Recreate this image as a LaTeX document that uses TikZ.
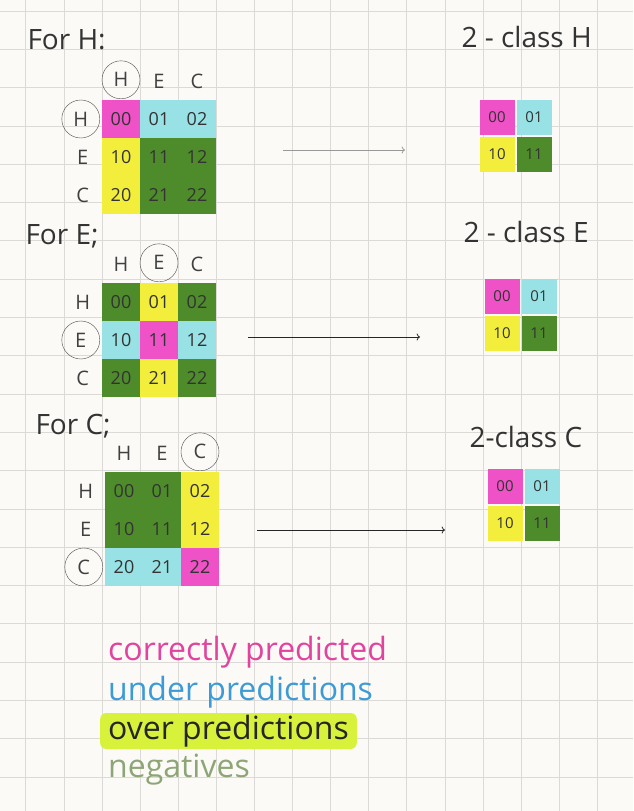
\documentclass[tikz,border=0pt]{standalone}
\usepackage{fontspec}
\setmainfont{Open Sans}
\usetikzlibrary{positioning, arrows.meta}

\definecolor{paper}{HTML}{FBFAF7}
\definecolor{gridgray}{HTML}{DCDAD6}
\definecolor{predpink}{HTML}{EE52C6}
\definecolor{predcyan}{HTML}{98E2E6}
\definecolor{predyellow}{HTML}{F3EE3C}
\definecolor{predgreen}{HTML}{4E8B2B}
\definecolor{penblue}{HTML}{3C9BD6}
\definecolor{penpink}{HTML}{E2439E}
\definecolor{marker}{HTML}{D8F23C}
\definecolor{fadegreen}{HTML}{8EA676}

\begin{document}
\begin{tikzpicture}[
    x=1pt, y=-1pt,
    node distance=0pt,
    cell/.style={rectangle, minimum size=38pt, inner sep=0pt, outer sep=0pt, text=black!80, font=\fontsize{18}{18}\selectfont},
    mini/.style={rectangle, minimum size=35pt, inner sep=0pt, outer sep=0pt, text=black!80, font=\fontsize{15}{15}\selectfont},
    lab/.style={circle, minimum size=30pt, inner sep=0pt, text=black!75, font=\fontsize{20}{20}\selectfont},
    ring/.style={draw=black!70, thin, minimum size=38pt},
    title/.style={anchor=west, text=black!80, font=\fontsize{28}{28}\selectfont},
    legend/.style={anchor=west, inner sep=2pt, font=\fontsize{32}{32}\selectfont},
    gridline/.style={gridgray, line width=0.7pt},
    arrow/.style={->, line width=0.8pt}
]

% Paper
\fill[paper] (0,0) rectangle (633,811);
\useasboundingbox (0,0) rectangle (633,811);
\foreach \gx in {0,...,16}
    \draw[gridline] ({25.8+38.1*\gx},0) -- ({25.8+38.1*\gx},811);
\foreach \gy in {0,...,20}
    \draw[gridline] (0,{11+38.3*\gy}) -- (633,{11+38.3*\gy});

% Titles
\node[title] (forH) at (24,40) {For H:};
\node[title] (forE) at (22,236) {For E;};
\node[title] (forC) at (32,426) {For C;};
\node[title] (twoH) at (458,37) {2 - class H};
\node[title] (twoE) at (460,232) {2 - class E};
\node[title] (twoC) at (466,437) {2-class C};

% For H
\node[cell, fill=predpink] (h00) at (121,119) {00};
\node[cell, fill=predcyan, right=of h00] (h01) {01};
\node[cell, fill=predcyan, right=of h01] (h02) {02};
\node[cell, fill=predyellow, below=of h00] (h10) {10};
\node[cell, fill=predgreen, right=of h10] (h11) {11};
\node[cell, fill=predgreen, right=of h11] (h12) {12};
\node[cell, fill=predyellow, below=of h10] (h20) {20};
\node[cell, fill=predgreen, right=of h20] (h21) {21};
\node[cell, fill=predgreen, right=of h21] (h22) {22};
\node[lab, ring, above=1pt of h00] (hcolH) {H};
\node[lab, above=3pt of h01] (hcolE) {E};
\node[lab, above=3pt of h02] (hcolC) {C};
\node[lab, ring, left=2pt of h00] (hrowH) {H};
\node[lab, left=4pt of h10] (hrowE) {E};
\node[lab, left=4pt of h20] (hrowC) {C};

% For E
\node[cell, fill=predgreen] (e00) at (121,302) {00};
\node[cell, fill=predyellow, right=of e00] (e01) {01};
\node[cell, fill=predgreen, right=of e01] (e02) {02};
\node[cell, fill=predcyan, below=of e00] (e10) {10};
\node[cell, fill=predpink, right=of e10] (e11) {11};
\node[cell, fill=predcyan, right=of e11] (e12) {12};
\node[cell, fill=predgreen, below=of e10] (e20) {20};
\node[cell, fill=predyellow, right=of e20] (e21) {21};
\node[cell, fill=predgreen, right=of e21] (e22) {22};
\node[lab, above=3pt of e00] (ecolH) {H};
\node[lab, ring, above=1pt of e01] (ecolE) {E};
\node[lab, above=3pt of e02] (ecolC) {C};
\node[lab, left=4pt of e00] (erowH) {H};
\node[lab, ring, left=2pt of e10] (erowE) {E};
\node[lab, left=4pt of e20] (erowC) {C};

% For C
\node[cell, fill=predgreen] (c00) at (124,491) {00};
\node[cell, fill=predgreen, right=of c00] (c01) {01};
\node[cell, fill=predyellow, right=of c01] (c02) {02};
\node[cell, fill=predgreen, below=of c00] (c10) {10};
\node[cell, fill=predgreen, right=of c10] (c11) {11};
\node[cell, fill=predyellow, right=of c11] (c12) {12};
\node[cell, fill=predcyan, below=of c10] (c20) {20};
\node[cell, fill=predcyan, right=of c20] (c21) {21};
\node[cell, fill=predpink, right=of c21] (c22) {22};
\node[lab, above=3pt of c00] (ccolH) {H};
\node[lab, above=3pt of c01] (ccolE) {E};
\node[lab, ring, above=1pt of c02] (ccolC) {C};
\node[lab, left=4pt of c00] (crowH) {H};
\node[lab, left=4pt of c10] (crowE) {E};
\node[lab, ring, left=2pt of c20] (crowC) {C};

% 2-class matrices
\node[mini, fill=predpink] (hb00) at (497,117) {00};
\node[mini, fill=predcyan, right=2pt of hb00] (hb01) {01};
\node[mini, fill=predyellow, below=2pt of hb00] (hb10) {10};
\node[mini, fill=predgreen, right=2pt of hb10] (hb11) {11};

\node[mini, fill=predpink] (eb00) at (502,296) {00};
\node[mini, fill=predcyan, right=2pt of eb00] (eb01) {01};
\node[mini, fill=predyellow, below=2pt of eb00] (eb10) {10};
\node[mini, fill=predgreen, right=2pt of eb10] (eb11) {11};

\node[mini, fill=predpink] (cb00) at (505,486) {00};
\node[mini, fill=predcyan, right=2pt of cb00] (cb01) {01};
\node[mini, fill=predyellow, below=2pt of cb00] (cb10) {10};
\node[mini, fill=predgreen, right=2pt of cb10] (cb11) {11};

% Arrows
\coordinate (hFrom) at (283,150);
\coordinate (hTo) at (405,150);
\coordinate (eFrom) at (248,337);
\coordinate (eTo) at (420,337);
\coordinate (cFrom) at (257,530);
\coordinate (cTo) at (445,530);
\draw[arrow, black!40] (hFrom) -- (hTo);
\draw[arrow, black!85] (eFrom) -- (eTo);
\draw[arrow, black!85] (cFrom) -- (cTo);

% Legend
\node[legend, text=penpink] (correct) at (106,652) {correctly predicted};
\node[legend, text=penblue] (under) at (106,692) {under predictions};
\node[legend, text=black!85, fill=marker, inner xsep=8pt, rounded corners=6pt] (over) at (100,731) {over predictions};
\node[legend, text=fadegreen] (neg) at (106,770) {negatives};

\end{tikzpicture}
\end{document}
